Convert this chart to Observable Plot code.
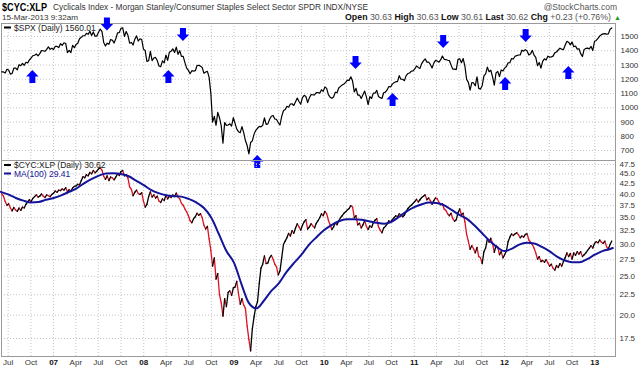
<!DOCTYPE html>
<html><head><meta charset="utf-8">
<script src="https://cdn.jsdelivr.net/npm/d3@7"></script>
<script src="https://cdn.jsdelivr.net/npm/@observablehq/plot@0.6"></script>
<style>
body{margin:0;background:#fff;font-family:"Liberation Sans",Arial,sans-serif;}
#wrap{position:relative;width:640px;height:368px;overflow:hidden;background:#fff;}
#top,#bot,#over{position:absolute;left:0;}
#top{top:0;} #bot{top:160px;} #over{top:0;pointer-events:none;}
</style></head><body><div id="wrap"><div id="top"></div><div id="bot"></div><svg id="over" width="640" height="368"></svg></div>
<script>
// ---------- data ----------
const spx2006 = [1252,1251,1244,1270,1265,1236,1240,1278,1279,1266,1302,1295,1311,1298,1319,1314,1336,1349,1365,1368,1377,1364,1380,1401,1400,1396,1409,1427,1410,1418];
const spx2007 = [1409,1431,1430,1422,1449,1438,1456,1451,1387,1402,1386,1437,1421,1443,1452,1484,1494,1505,1505,1522,1515,1536,1507,1532,1502,1503,1530,1552,1534,1458,1433,1453,1445,1479,1474,1454,1484,1525,1527,1557,1561,1500,1535,1509,1453,1458,1440,1481,1504,1468,1484,1478,1411];
const spx2008 = [1401,1325,1330,1395,1331,1349,1353,1331,1293,1288,1329,1315,1370,1332,1390,1397,1413,1388,1425,1375,1400,1360,1360,1317,1278,1262,1239,1260,1257,1260,1296,1298,1292,1282,1242,1251,1255,1213,1099,899,940,877,968,930,873,752,896,876,879,887,872,931];
const spx2009 = [890,850,832,825,868,826,770,735,677,756,768,815,842,856,869,866,877,929,883,887,919,940,946,921,918,896,879,940,979,987,1010,1004,1026,1028,1016,1042,1068,1044,1025,1071,1087,1079,1036,1069,1093,1091,1091,1106,1106,1102,1126,1115];
const spx2010 = [1145,1136,1092,1074,1066,1075,1109,1105,1139,1150,1159,1167,1178,1194,1192,1217,1187,1111,1136,1088,1089,1065,1092,1117,1076,1022,1078,1065,1103,1102,1122,1079,1071,1065,1105,1110,1125,1149,1146,1166,1176,1183,1183,1225,1200,1200,1190,1225,1240,1244,1257,1258];
const spx2011 = [1272,1293,1283,1276,1310,1329,1343,1320,1321,1304,1279,1313,1332,1328,1320,1337,1363,1340,1338,1333,1331,1300,1271,1271,1268,1339,1344,1316,1345,1292,1199,1178,1123,1177,1174,1154,1216,1136,1131,1155,1224,1238,1285,1253,1263,1216,1159,1244,1255,1219,1265,1258];
const spx2012 = [1278,1289,1315,1316,1345,1342,1361,1366,1370,1370,1404,1397,1408,1398,1370,1378,1403,1369,1353,1295,1318,1278,1325,1343,1335,1362,1355,1357,1362,1385,1391,1405,1418,1411,1407,1438,1466,1460,1441,1461,1428,1433,1411,1414,1380,1359,1409,1416,1418,1413,1430,1402,1466];
const spx2013 = [1472,1486,1503,1513,1518,1520,1516,1518,1551,1560];

const cyc2006 = [40.2,39.6,38.4,37.6,37.9,37.0,36.4,37.1,36.6,36.3,37.0,36.5,37.2,37.0,37.8,38.3,38.8,38.4,39.1,39.5,39.9,39.4,39.6,40.1,39.6,39.3,39.9,39.7,39.5,40.0];
const cyc2007 = [40.3,40.8,40.5,41.0,40.9,41.3,41.0,41.6,40.6,41.1,40.8,41.5,41.9,42.0,42.4,42.2,43.3,44.3,44.0,44.8,44.5,45.4,45.0,45.9,45.3,45.7,46.3,46.6,46.0,44.4,43.6,44.5,43.3,44.2,44.0,43.5,44.2,45.0,44.6,45.6,45.9,44.5,44.8,44.0,41.8,41.2,39.7,40.5,41.0,40.2,40.0,40.4,38.5];
const cyc2008 = [37.2,37.8,39.5,40.6,39.4,39.9,39.2,39.6,38.5,38.2,39.0,38.6,39.8,39.0,39.6,39.3,39.9,39.5,40.3,39.4,39.0,38.0,37.6,36.8,36.2,35.4,34.4,34.0,34.8,35.2,35.9,35.5,35.8,35.0,33.5,32.8,33.3,31.0,29.0,26.5,27.8,24.6,25.4,22.5,21.5,19.9,22.0,21.0,22.8,23.0,22.4,23.4];
const cyc2009 = [23.5,24.3,22.6,21.3,22.0,21.2,20.8,18.8,17.4,16.3,18.5,19.8,21.0,21.6,24.0,26.2,26.8,28.1,26.9,27.0,27.8,28.2,27.6,26.8,26.4,25.2,25.8,27.8,30.0,30.6,31.2,32.0,31.5,32.5,32.0,33.0,33.8,33.2,32.6,33.5,34.2,34.6,32.8,33.2,33.8,33.4,33.0,33.9,34.4,35.0,35.8,35.4];
const cyc2010 = [36.3,35.8,34.5,33.6,32.7,33.2,34.0,33.6,34.4,35.0,35.4,35.9,36.2,36.6,36.9,37.5,37.2,35.0,35.4,33.6,33.9,33.0,33.6,34.4,33.3,32.7,33.4,33.1,34.0,34.5,34.8,33.2,32.6,32.1,33.0,33.3,33.8,34.4,34.2,34.6,35.0,35.4,35.2,35.8,35.6,35.2,35.5,36.3,36.9,37.3,37.6,38.0];
const cyc2011 = [38.4,38.9,38.3,38.8,39.3,39.6,39.9,38.8,39.2,38.6,37.8,38.6,39.2,39.0,38.2,37.7,37.9,36.8,36.5,35.8,35.4,35.9,34.8,34.3,34.6,36.0,36.8,35.6,35.9,34.2,31.8,30.6,29.2,29.8,29.3,28.6,29.5,28.0,27.8,26.9,28.8,29.4,31.0,30.4,31.1,30.2,28.7,29.8,29.6,28.3,28.8,27.8];
const cyc2012 = [28.3,28.9,30.5,31.3,31.9,31.6,31.9,32.1,31.7,31.2,31.5,31.3,31.8,31.9,30.8,30.4,30.0,29.4,28.6,27.6,28.0,27.2,27.4,27.1,27.5,27.0,26.5,26.8,26.2,25.9,26.6,26.3,26.9,26.5,27.2,27.8,28.6,28.0,28.5,27.6,28.6,28.2,28.8,28.4,28.8,28.0,28.3,28.6,29.0,29.4,29.8,29.4,30.2];
const cyc2013 = [30.5,30.3,30.8,30.4,30.2,30.6,29.6,29.3,30.0,30.62];

// first Monday of each yearly block
const weekStarts = ["2006-06-05","2007-01-01","2008-01-07","2009-01-05","2010-01-04","2011-01-03","2012-01-02","2013-01-07"];

// MA(100) read monthly (1st of month) from Jun 2006, plus last value
const maMonthly = [40.6,40.0,39.2,38.6,38.2,38.3,38.8,
  39.2,39.8,40.5,41.3,42.5,43.6,44.5,45.1,45.2,45.0,44.4,43.3,
  42.2,41.0,40.3,39.8,39.6,39.5,39.0,38.2,37.0,35.0,31.8,28.9,
  27.0,23.8,21.5,20.8,21.7,23.0,24.0,25.6,27.0,28.3,30.0,31.3,
  32.6,33.6,34.3,34.7,34.7,34.6,34.3,34.0,33.8,34.2,35.2,36.3,
  37.2,37.8,38.2,38.1,37.6,36.6,35.6,34.8,33.5,32.1,30.7,29.6,
  28.9,29.3,30.0,30.3,30.2,29.6,28.9,28.0,27.4,27.1,27.1,27.6,
  28.3,28.9,29.2];
const maStart = "2006-06-01";
const maLast = ["2013-03-15", 29.41];

// signal arrows: date, SPX level of arrow centre, direction
const arrowDates = ["2007-08-05","2008-06-08","2010-05-08","2011-04-28","2012-03-27","2006-10-07","2008-04-10","2009-04-05","2010-10-05","2012-01-04","2012-09-16"];
const arrowLevels = [1588,1514,1318,1465,1507,1219,1219,623,1058,1170,1247];
const arrowDirs = ["down","down","down","down","down","up","up","up","up","up","up"];

const spxTicks = [700,800,900,1000,1100,1200,1300,1400,1500];
const cycTicks = [17.5,20,22.5,25,27.5,30,32.5,35,37.5,40,42.5,45,47.5];
const monthLabels = {3:"Apr",6:"Jul",9:"Oct"};

// ---------- build ----------
const parse = d3.utcParse("%Y-%m-%d");
function weekly(startStr, vals){const t0=parse(startStr);return vals.map((v,i)=>({date:d3.utcDay.offset(t0,7*i),value:v}));}
const spxBlocks=[spx2006,spx2007,spx2008,spx2009,spx2010,spx2011,spx2012,spx2013];
const cycBlocks=[cyc2006,cyc2007,cyc2008,cyc2009,cyc2010,cyc2011,cyc2012,cyc2013];
const spx = spxBlocks.flatMap((b,i)=>weekly(weekStarts[i],b));
const cyc = cycBlocks.flatMap((b,i)=>weekly(weekStarts[i],b));
const ma = maMonthly.map((v,i)=>({date:d3.utcMonth.offset(parse(maStart),i),value:v})).concat([{date:parse(maLast[0]),value:maLast[1]}]);
const segs = cyc.slice(1).map((d,i)=>({x1:cyc[i].date,y1:cyc[i].value,x2:d.date,y2:d.value,up:d.value>=cyc[i].value}));
const arrows = arrowDates.map((d,i)=>({date:parse(d),value:arrowLevels[i],dir:arrowDirs[i]}));

const xDomain=[parse("2006-06-04"),parse("2013-03-26")];
const xTicks=d3.utcMonth.every(3).range(parse("2006-07-01"),parse("2013-02-01"));
const yearTicks=xTicks.filter(d=>d.getUTCMonth()===0);
const monTicks=xTicks.filter(d=>d.getUTCMonth()!==0);

function arrowSym(dir){return {draw(ctx,size){const s=Math.sqrt(size/Math.PI)/6.5;const k=dir==="down"?1:-1;
  const p=[[-3,-6.5],[3,-6.5],[3,0],[6.2,0],[0,6.5],[-6.2,0],[-3,0]];
  ctx.moveTo(p[0][0]*s,p[0][1]*s*k);for(let i=1;i<p.length;i++)ctx.lineTo(p[i][0]*s,p[i][1]*s*k);ctx.closePath();}};}

const gridStyle={stroke:"#c4c4c4",strokeDasharray:"1,2",strokeOpacity:1,strokeWidth:1};
const common={width:640,marginLeft:1,marginRight:25,style:{background:"transparent",overflow:"visible",fontFamily:"'Liberation Sans',Arial,sans-serif",fontSize:"8px",color:"#333"}};

const topPlot=Plot.plot({...common,height:160,marginTop:23,marginBottom:0,
  x:{type:"utc",domain:xDomain,axis:null,label:null},
  y:{type:"linear",domain:[630,1591],axis:null,label:null},
  marks:[
    Plot.gridX(xTicks,gridStyle),
    Plot.gridY(spxTicks,gridStyle),
    Plot.axisY(spxTicks,{anchor:"right",label:null,tickSize:0,tickPadding:5,tickFormat:d=>String(d),fill:"#333"}),
    Plot.frame({stroke:"#9a9a9a"}),
    Plot.line(spx,{x:"date",y:"value",stroke:"#000",strokeWidth:1.2,strokeLinejoin:"round"}),
    Plot.dot(arrows.filter(a=>a.dir==="down"),{x:"date",y:"value",r:6.5,symbol:arrowSym("down"),fill:"#0000ff",stroke:null}),
    Plot.dot(arrows.filter(a=>a.dir==="up"),{x:"date",y:"value",r:6.5,symbol:arrowSym("up"),fill:"#0000ff",stroke:null})
  ]});
document.getElementById("top").appendChild(topPlot);

const botPlot=Plot.plot({...common,height:208,marginTop:0,marginBottom:12,
  x:{type:"utc",domain:xDomain,axis:null,label:null},
  y:{type:"log",domain:[15.78,48.6],axis:null,label:null},
  marks:[
    Plot.gridX(xTicks,gridStyle),
    Plot.gridY(cycTicks,gridStyle),
    Plot.axisY(cycTicks,{anchor:"right",label:null,tickSize:0,tickPadding:4,tickFormat:d=>d.toFixed(1),fill:"#333"}),
    Plot.axisX(monTicks,{anchor:"bottom",label:null,tickSize:0,tickPadding:3,tickFormat:d=>monthLabels[d.getUTCMonth()],fill:"#333"}),
    Plot.axisX(yearTicks,{anchor:"bottom",label:null,tickSize:0,tickPadding:3,tickFormat:d=>d3.utcFormat("%y")(d),fill:"#111",fontWeight:"bold"}),
    Plot.frame({stroke:"#9a9a9a"}),
    Plot.link(segs.filter(s=>!s.up),{x1:"x1",y1:"y1",x2:"x2",y2:"y2",stroke:"#dd1122",strokeWidth:1.3,strokeLinecap:"round"}),
    Plot.link(segs.filter(s=>s.up),{x1:"x1",y1:"y1",x2:"x2",y2:"y2",stroke:"#000",strokeWidth:1.3,strokeLinecap:"round"}),
    Plot.line(ma,{x:"date",y:"value",stroke:"#14149a",strokeWidth:2,curve:"monotone-x"})
  ]});
document.getElementById("bot").appendChild(botPlot);

// ---------- header & legends (text overlay) ----------
const over=d3.select("#over").style("font-family","'Liberation Sans',Arial,sans-serif");
function txt(x,y,str,o={}){const t=over.append("text").attr("x",x).attr("y",y).text(str)
  .attr("font-size",o.size||8.5).attr("fill",o.fill||"#222").attr("font-weight",o.weight||"normal");
  if(o.anchor)t.attr("text-anchor",o.anchor); if(o.len)t.attr("textLength",o.len).attr("lengthAdjust","spacingAndGlyphs"); return t;}
txt(2,11,"$CYC:XLP",{size:11.5,weight:"bold",fill:"#000",len:45});
txt(53,10,"Cyclicals Index - Morgan Stanley/Consumer Staples Select Sector SPDR INDX/NYSE",{size:8.5,fill:"#333",len:315});
txt(617,10,"@StockCharts.com",{size:8.5,fill:"#555",anchor:"end"});
txt(2,19.5,"15-Mar-2013 9:32am",{size:8,fill:"#333",len:76});
const q=over.append("text").attr("x",345).attr("y",20).attr("font-size",8.5).attr("fill","#111").attr("textLength",266).attr("lengthAdjust","spacingAndGlyphs");
const quote=[["Open"," 30.63  "],["High"," 30.63  "],["Low"," 30.61  "],["Last"," 30.62  "],["Chg"," +0.23 (+0.76%) "]];
quote.forEach(([k,v])=>{q.append("tspan").attr("font-weight","bold").text(k);q.append("tspan").attr("fill","#555").text(v);});
over.append("text").attr("x",614).attr("y",20).attr("font-size",7).attr("fill","#1a9a1a").text("▲");
// panel legends
function legend(y,color,label,tcolor){over.append("rect").attr("x",4).attr("y",y-4).attr("width",7).attr("height",2).attr("fill",color);
  txt(14,y,label,{size:8.5,fill:tcolor||"#222"});}
legend(30.5,"#000","$SPX (Daily) 1560.01");
legend(168,"#000","$CYC:XLP (Daily) 30.62");
legend(176.5,"#14149a","MA(100) 29.41","#14149a");
</script></body></html>
